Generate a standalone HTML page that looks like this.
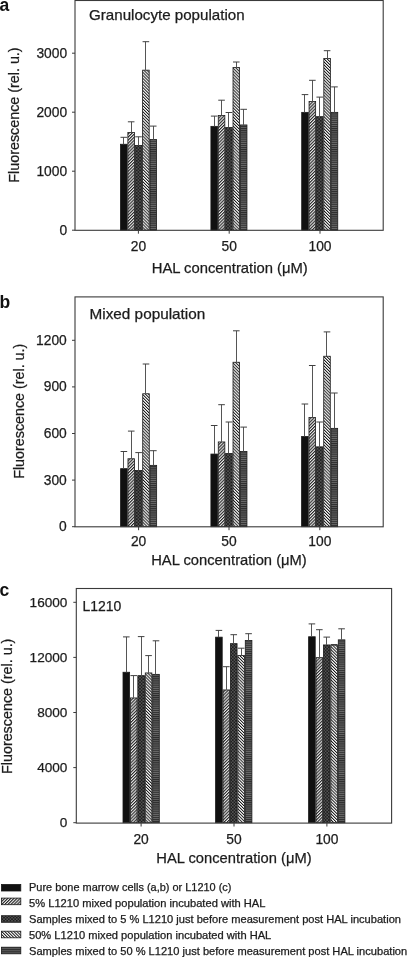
<!DOCTYPE html><html><head><meta charset="utf-8"><style>html,body{margin:0;padding:0;background:#fff;width:407px;height:957px;overflow:hidden;position:relative}</style></head><body><svg width="407" height="957" viewBox="0 0 407 957" style="position:absolute;left:0;top:0;will-change:transform;filter:blur(0.3px)">
<defs>
<pattern id="p2" patternUnits="userSpaceOnUse" width="2.2" height="10" patternTransform="rotate(45)">
<rect width="2.2" height="10" fill="#ececec"/><rect width="1.1" height="10" fill="#262626"/></pattern>
<pattern id="p4" patternUnits="userSpaceOnUse" width="2.15" height="10" patternTransform="rotate(-45)">
<rect width="2.15" height="10" fill="#fafafa"/><rect width="0.95" height="10" fill="#141414"/></pattern>
<pattern id="p3" patternUnits="userSpaceOnUse" width="3.2" height="3.2">
<rect width="3.2" height="3.2" fill="#1e1e1e"/><rect x="0.25" y="0.25" width="1.1" height="1.1" fill="#8c8c8c"/><rect x="1.85" y="1.85" width="1.1" height="1.1" fill="#8c8c8c"/></pattern>
<pattern id="p5" patternUnits="userSpaceOnUse" width="10" height="2.1">
<rect width="10" height="2.1" fill="#2c2c2c"/><rect y="1.1" width="10" height="1.0" fill="#6a6a6a"/></pattern>
</defs>
<rect width="407" height="957" fill="#fff"/>
<rect x="120.50" y="144.25" width="6.57" height="85.95" fill="#111" stroke="#1a1a1a" stroke-width="0.8"/>
<line x1="123.50" y1="137.30" x2="123.50" y2="144.25" stroke="#555" stroke-width="1"/>
<line x1="120.48" y1="137.30" x2="127.08" y2="137.30" stroke="#404040" stroke-width="1"/>
<rect x="127.87" y="132.55" width="6.57" height="97.65" fill="url(#p2)" stroke="#1a1a1a" stroke-width="0.8"/>
<line x1="131.50" y1="121.80" x2="131.50" y2="132.55" stroke="#555" stroke-width="1"/>
<line x1="127.86" y1="121.80" x2="134.46" y2="121.80" stroke="#404040" stroke-width="1"/>
<rect x="135.24" y="145.45" width="6.57" height="84.75" fill="url(#p3)" stroke="#1a1a1a" stroke-width="0.8"/>
<line x1="138.50" y1="136.80" x2="138.50" y2="145.45" stroke="#555" stroke-width="1"/>
<line x1="135.22" y1="136.80" x2="141.83" y2="136.80" stroke="#404040" stroke-width="1"/>
<rect x="142.61" y="70.15" width="6.57" height="160.05" fill="url(#p4)" stroke="#1a1a1a" stroke-width="0.8"/>
<line x1="145.50" y1="41.70" x2="145.50" y2="70.15" stroke="#555" stroke-width="1"/>
<line x1="142.59" y1="41.70" x2="149.19" y2="41.70" stroke="#404040" stroke-width="1"/>
<rect x="149.98" y="139.55" width="6.57" height="90.65" fill="url(#p5)" stroke="#1a1a1a" stroke-width="0.8"/>
<line x1="153.50" y1="126.10" x2="153.50" y2="139.55" stroke="#555" stroke-width="1"/>
<line x1="149.96" y1="126.10" x2="156.56" y2="126.10" stroke="#404040" stroke-width="1"/>
<rect x="210.90" y="126.35" width="6.57" height="103.85" fill="#111" stroke="#1a1a1a" stroke-width="0.8"/>
<line x1="214.50" y1="116.10" x2="214.50" y2="126.35" stroke="#555" stroke-width="1"/>
<line x1="210.88" y1="116.10" x2="217.49" y2="116.10" stroke="#404040" stroke-width="1"/>
<rect x="218.27" y="115.45" width="6.57" height="114.75" fill="url(#p2)" stroke="#1a1a1a" stroke-width="0.8"/>
<line x1="221.50" y1="100.20" x2="221.50" y2="115.45" stroke="#555" stroke-width="1"/>
<line x1="218.25" y1="100.20" x2="224.86" y2="100.20" stroke="#404040" stroke-width="1"/>
<rect x="225.64" y="127.55" width="6.57" height="102.65" fill="url(#p3)" stroke="#1a1a1a" stroke-width="0.8"/>
<line x1="228.50" y1="112.50" x2="228.50" y2="127.55" stroke="#555" stroke-width="1"/>
<line x1="225.62" y1="112.50" x2="232.23" y2="112.50" stroke="#404040" stroke-width="1"/>
<rect x="233.01" y="67.55" width="6.57" height="162.65" fill="url(#p4)" stroke="#1a1a1a" stroke-width="0.8"/>
<line x1="236.50" y1="62.00" x2="236.50" y2="67.55" stroke="#555" stroke-width="1"/>
<line x1="233.00" y1="62.00" x2="239.60" y2="62.00" stroke="#404040" stroke-width="1"/>
<rect x="240.38" y="124.95" width="6.57" height="105.25" fill="url(#p5)" stroke="#1a1a1a" stroke-width="0.8"/>
<line x1="243.50" y1="109.30" x2="243.50" y2="124.95" stroke="#555" stroke-width="1"/>
<line x1="240.36" y1="109.30" x2="246.97" y2="109.30" stroke="#404040" stroke-width="1"/>
<rect x="301.70" y="112.35" width="6.57" height="117.85" fill="#111" stroke="#1a1a1a" stroke-width="0.8"/>
<line x1="304.50" y1="94.60" x2="304.50" y2="112.35" stroke="#555" stroke-width="1"/>
<line x1="301.69" y1="94.60" x2="308.29" y2="94.60" stroke="#404040" stroke-width="1"/>
<rect x="309.07" y="101.55" width="6.57" height="128.65" fill="url(#p2)" stroke="#1a1a1a" stroke-width="0.8"/>
<line x1="312.50" y1="80.30" x2="312.50" y2="101.55" stroke="#555" stroke-width="1"/>
<line x1="309.06" y1="80.30" x2="315.66" y2="80.30" stroke="#404040" stroke-width="1"/>
<rect x="316.44" y="116.65" width="6.57" height="113.55" fill="url(#p3)" stroke="#1a1a1a" stroke-width="0.8"/>
<line x1="319.50" y1="97.10" x2="319.50" y2="116.65" stroke="#555" stroke-width="1"/>
<line x1="316.43" y1="97.10" x2="323.03" y2="97.10" stroke="#404040" stroke-width="1"/>
<rect x="323.81" y="58.55" width="6.57" height="171.65" fill="url(#p4)" stroke="#1a1a1a" stroke-width="0.8"/>
<line x1="327.50" y1="50.70" x2="327.50" y2="58.55" stroke="#555" stroke-width="1"/>
<line x1="323.80" y1="50.70" x2="330.40" y2="50.70" stroke="#404040" stroke-width="1"/>
<rect x="331.18" y="112.35" width="6.57" height="117.85" fill="url(#p5)" stroke="#1a1a1a" stroke-width="0.8"/>
<line x1="334.50" y1="86.90" x2="334.50" y2="112.35" stroke="#555" stroke-width="1"/>
<line x1="331.17" y1="86.90" x2="337.77" y2="86.90" stroke="#404040" stroke-width="1"/>
<rect x="75" y="0.5" width="308.20" height="229.80" fill="none" stroke="#3a3a3a" stroke-width="1.1"/>
<line x1="72.00" y1="230.20" x2="75" y2="230.20" stroke="#3a3a3a" stroke-width="1"/>
<text x="67.10" y="234.70" font-family="Liberation Sans, sans-serif" font-size="13.8" fill="#1c1c1c" stroke="#1c1c1c" stroke-width="0.25" text-anchor="end">0</text>
<line x1="72.00" y1="171.20" x2="75" y2="171.20" stroke="#3a3a3a" stroke-width="1"/>
<text x="67.10" y="175.70" font-family="Liberation Sans, sans-serif" font-size="13.8" fill="#1c1c1c" stroke="#1c1c1c" stroke-width="0.25" text-anchor="end">1000</text>
<line x1="72.00" y1="112.20" x2="75" y2="112.20" stroke="#3a3a3a" stroke-width="1"/>
<text x="67.10" y="116.70" font-family="Liberation Sans, sans-serif" font-size="13.8" fill="#1c1c1c" stroke="#1c1c1c" stroke-width="0.25" text-anchor="end">2000</text>
<line x1="72.00" y1="53.20" x2="75" y2="53.20" stroke="#3a3a3a" stroke-width="1"/>
<text x="67.10" y="57.70" font-family="Liberation Sans, sans-serif" font-size="13.8" fill="#1c1c1c" stroke="#1c1c1c" stroke-width="0.25" text-anchor="end">3000</text>
<line x1="138.4" y1="230.3" x2="138.4" y2="233.70" stroke="#3a3a3a" stroke-width="1"/>
<text x="138.4" y="251.1" font-family="Liberation Sans, sans-serif" font-size="13.8" fill="#1c1c1c" stroke="#1c1c1c" stroke-width="0.25" text-anchor="middle">20</text>
<line x1="229.2" y1="230.3" x2="229.2" y2="233.70" stroke="#3a3a3a" stroke-width="1"/>
<text x="229.2" y="251.1" font-family="Liberation Sans, sans-serif" font-size="13.8" fill="#1c1c1c" stroke="#1c1c1c" stroke-width="0.25" text-anchor="middle">50</text>
<line x1="320.0" y1="230.3" x2="320.0" y2="233.70" stroke="#3a3a3a" stroke-width="1"/>
<text x="320.0" y="251.1" font-family="Liberation Sans, sans-serif" font-size="13.8" fill="#1c1c1c" stroke="#1c1c1c" stroke-width="0.25" text-anchor="middle">100</text>
<text x="151.70" y="273" font-family="Liberation Sans, sans-serif" font-size="14.8" fill="#1c1c1c" stroke="#1c1c1c" stroke-width="0.25" textLength="156.10" lengthAdjust="spacingAndGlyphs">HAL concentration (μM)</text>
<text transform="translate(19.10,182.70) rotate(-90)" font-family="Liberation Sans, sans-serif" font-size="14.2" fill="#1c1c1c" stroke="#1c1c1c" stroke-width="0.25" textLength="135.30" lengthAdjust="spacingAndGlyphs">Fluorescence (rel. u.)</text>
<text x="-0.6" y="10.7" font-family="Liberation Sans, sans-serif" font-size="17.5" font-weight="bold" fill="#111">a</text>
<text x="89.00" y="19.50" font-family="Liberation Sans, sans-serif" font-size="14.2" fill="#1c1c1c" stroke="#1c1c1c" stroke-width="0.25" textLength="155.60" lengthAdjust="spacingAndGlyphs">Granulocyte population</text>
<rect x="120.60" y="468.65" width="6.57" height="58.05" fill="#111" stroke="#1a1a1a" stroke-width="0.8"/>
<line x1="123.50" y1="451.50" x2="123.50" y2="468.65" stroke="#555" stroke-width="1"/>
<line x1="120.59" y1="451.50" x2="127.19" y2="451.50" stroke="#404040" stroke-width="1"/>
<rect x="127.97" y="458.75" width="6.57" height="67.95" fill="url(#p2)" stroke="#1a1a1a" stroke-width="0.8"/>
<line x1="131.50" y1="431.10" x2="131.50" y2="458.75" stroke="#555" stroke-width="1"/>
<line x1="127.95" y1="431.10" x2="134.56" y2="431.10" stroke="#404040" stroke-width="1"/>
<rect x="135.34" y="470.55" width="6.57" height="56.15" fill="url(#p3)" stroke="#1a1a1a" stroke-width="0.8"/>
<line x1="138.50" y1="452.60" x2="138.50" y2="470.55" stroke="#555" stroke-width="1"/>
<line x1="135.32" y1="452.60" x2="141.93" y2="452.60" stroke="#404040" stroke-width="1"/>
<rect x="142.71" y="393.75" width="6.57" height="132.95" fill="url(#p4)" stroke="#1a1a1a" stroke-width="0.8"/>
<line x1="145.50" y1="364.00" x2="145.50" y2="393.75" stroke="#555" stroke-width="1"/>
<line x1="142.69" y1="364.00" x2="149.30" y2="364.00" stroke="#404040" stroke-width="1"/>
<rect x="150.08" y="465.35" width="6.57" height="61.35" fill="url(#p5)" stroke="#1a1a1a" stroke-width="0.8"/>
<line x1="153.50" y1="450.70" x2="153.50" y2="465.35" stroke="#555" stroke-width="1"/>
<line x1="150.06" y1="450.70" x2="156.67" y2="450.70" stroke="#404040" stroke-width="1"/>
<rect x="210.90" y="454.05" width="6.57" height="72.65" fill="#111" stroke="#1a1a1a" stroke-width="0.8"/>
<line x1="214.50" y1="425.50" x2="214.50" y2="454.05" stroke="#555" stroke-width="1"/>
<line x1="210.88" y1="425.50" x2="217.49" y2="425.50" stroke="#404040" stroke-width="1"/>
<rect x="218.27" y="441.95" width="6.57" height="84.75" fill="url(#p2)" stroke="#1a1a1a" stroke-width="0.8"/>
<line x1="221.50" y1="404.70" x2="221.50" y2="441.95" stroke="#555" stroke-width="1"/>
<line x1="218.25" y1="404.70" x2="224.86" y2="404.70" stroke="#404040" stroke-width="1"/>
<rect x="225.64" y="453.45" width="6.57" height="73.25" fill="url(#p3)" stroke="#1a1a1a" stroke-width="0.8"/>
<line x1="228.50" y1="422.00" x2="228.50" y2="453.45" stroke="#555" stroke-width="1"/>
<line x1="225.62" y1="422.00" x2="232.23" y2="422.00" stroke="#404040" stroke-width="1"/>
<rect x="233.01" y="362.25" width="6.57" height="164.45" fill="url(#p4)" stroke="#1a1a1a" stroke-width="0.8"/>
<line x1="236.50" y1="330.80" x2="236.50" y2="362.25" stroke="#555" stroke-width="1"/>
<line x1="233.00" y1="330.80" x2="239.60" y2="330.80" stroke="#404040" stroke-width="1"/>
<rect x="240.38" y="451.45" width="6.57" height="75.25" fill="url(#p5)" stroke="#1a1a1a" stroke-width="0.8"/>
<line x1="243.50" y1="427.10" x2="243.50" y2="451.45" stroke="#555" stroke-width="1"/>
<line x1="240.36" y1="427.10" x2="246.97" y2="427.10" stroke="#404040" stroke-width="1"/>
<rect x="301.60" y="436.45" width="6.57" height="90.25" fill="#111" stroke="#1a1a1a" stroke-width="0.8"/>
<line x1="304.50" y1="404.00" x2="304.50" y2="436.45" stroke="#555" stroke-width="1"/>
<line x1="301.58" y1="404.00" x2="308.19" y2="404.00" stroke="#404040" stroke-width="1"/>
<rect x="308.97" y="417.55" width="6.57" height="109.15" fill="url(#p2)" stroke="#1a1a1a" stroke-width="0.8"/>
<line x1="312.50" y1="365.50" x2="312.50" y2="417.55" stroke="#555" stroke-width="1"/>
<line x1="308.95" y1="365.50" x2="315.56" y2="365.50" stroke="#404040" stroke-width="1"/>
<rect x="316.34" y="446.85" width="6.57" height="79.85" fill="url(#p3)" stroke="#1a1a1a" stroke-width="0.8"/>
<line x1="319.50" y1="422.00" x2="319.50" y2="446.85" stroke="#555" stroke-width="1"/>
<line x1="316.32" y1="422.00" x2="322.93" y2="422.00" stroke="#404040" stroke-width="1"/>
<rect x="323.71" y="356.25" width="6.57" height="170.45" fill="url(#p4)" stroke="#1a1a1a" stroke-width="0.8"/>
<line x1="326.50" y1="331.90" x2="326.50" y2="356.25" stroke="#555" stroke-width="1"/>
<line x1="323.69" y1="331.90" x2="330.30" y2="331.90" stroke="#404040" stroke-width="1"/>
<rect x="331.08" y="428.35" width="6.57" height="98.35" fill="url(#p5)" stroke="#1a1a1a" stroke-width="0.8"/>
<line x1="334.50" y1="393.00" x2="334.50" y2="428.35" stroke="#555" stroke-width="1"/>
<line x1="331.06" y1="393.00" x2="337.67" y2="393.00" stroke="#404040" stroke-width="1"/>
<rect x="75" y="296.9" width="308.20" height="229.90" fill="none" stroke="#3a3a3a" stroke-width="1.1"/>
<line x1="72.00" y1="526.70" x2="75" y2="526.70" stroke="#3a3a3a" stroke-width="1"/>
<text x="66.80" y="531.20" font-family="Liberation Sans, sans-serif" font-size="13.8" fill="#1c1c1c" stroke="#1c1c1c" stroke-width="0.25" text-anchor="end">0</text>
<line x1="72.00" y1="480.10" x2="75" y2="480.10" stroke="#3a3a3a" stroke-width="1"/>
<text x="66.80" y="484.60" font-family="Liberation Sans, sans-serif" font-size="13.8" fill="#1c1c1c" stroke="#1c1c1c" stroke-width="0.25" text-anchor="end">300</text>
<line x1="72.00" y1="433.50" x2="75" y2="433.50" stroke="#3a3a3a" stroke-width="1"/>
<text x="66.80" y="438.00" font-family="Liberation Sans, sans-serif" font-size="13.8" fill="#1c1c1c" stroke="#1c1c1c" stroke-width="0.25" text-anchor="end">600</text>
<line x1="72.00" y1="386.90" x2="75" y2="386.90" stroke="#3a3a3a" stroke-width="1"/>
<text x="66.80" y="391.40" font-family="Liberation Sans, sans-serif" font-size="13.8" fill="#1c1c1c" stroke="#1c1c1c" stroke-width="0.25" text-anchor="end">900</text>
<line x1="72.00" y1="340.30" x2="75" y2="340.30" stroke="#3a3a3a" stroke-width="1"/>
<text x="66.80" y="344.80" font-family="Liberation Sans, sans-serif" font-size="13.8" fill="#1c1c1c" stroke="#1c1c1c" stroke-width="0.25" text-anchor="end">1200</text>
<line x1="138.6" y1="526.8" x2="138.6" y2="530.20" stroke="#3a3a3a" stroke-width="1"/>
<text x="138.6" y="545.6" font-family="Liberation Sans, sans-serif" font-size="13.8" fill="#1c1c1c" stroke="#1c1c1c" stroke-width="0.25" text-anchor="middle">20</text>
<line x1="229.0" y1="526.8" x2="229.0" y2="530.20" stroke="#3a3a3a" stroke-width="1"/>
<text x="229.0" y="545.6" font-family="Liberation Sans, sans-serif" font-size="13.8" fill="#1c1c1c" stroke="#1c1c1c" stroke-width="0.25" text-anchor="middle">50</text>
<line x1="319.8" y1="526.8" x2="319.8" y2="530.20" stroke="#3a3a3a" stroke-width="1"/>
<text x="319.8" y="545.6" font-family="Liberation Sans, sans-serif" font-size="13.8" fill="#1c1c1c" stroke="#1c1c1c" stroke-width="0.25" text-anchor="middle">100</text>
<text x="151.20" y="564.5" font-family="Liberation Sans, sans-serif" font-size="14.8" fill="#1c1c1c" stroke="#1c1c1c" stroke-width="0.25" textLength="155.60" lengthAdjust="spacingAndGlyphs">HAL concentration (μM)</text>
<text transform="translate(23.50,478.80) rotate(-90)" font-family="Liberation Sans, sans-serif" font-size="14.2" fill="#1c1c1c" stroke="#1c1c1c" stroke-width="0.25" textLength="135.10" lengthAdjust="spacingAndGlyphs">Fluorescence (rel. u.)</text>
<text x="-0.6" y="308.3" font-family="Liberation Sans, sans-serif" font-size="17.5" font-weight="bold" fill="#111">b</text>
<text x="89.50" y="319.40" font-family="Liberation Sans, sans-serif" font-size="14.2" fill="#1c1c1c" stroke="#1c1c1c" stroke-width="0.25" textLength="115.80" lengthAdjust="spacingAndGlyphs">Mixed population</text>
<rect x="123.00" y="672.25" width="6.62" height="150.45" fill="#111" stroke="#1a1a1a" stroke-width="0.8"/>
<line x1="126.50" y1="636.90" x2="126.50" y2="672.25" stroke="#555" stroke-width="1"/>
<line x1="123.01" y1="636.90" x2="129.61" y2="636.90" stroke="#404040" stroke-width="1"/>
<rect x="130.42" y="697.95" width="6.62" height="124.75" fill="url(#p2)" stroke="#1a1a1a" stroke-width="0.8"/>
<line x1="133.50" y1="675.60" x2="133.50" y2="697.95" stroke="#555" stroke-width="1"/>
<line x1="130.43" y1="675.60" x2="137.03" y2="675.60" stroke="#404040" stroke-width="1"/>
<rect x="137.84" y="675.65" width="6.62" height="147.05" fill="url(#p3)" stroke="#1a1a1a" stroke-width="0.8"/>
<line x1="141.50" y1="636.60" x2="141.50" y2="675.65" stroke="#555" stroke-width="1"/>
<line x1="137.85" y1="636.60" x2="144.45" y2="636.60" stroke="#404040" stroke-width="1"/>
<rect x="145.26" y="672.95" width="6.62" height="149.75" fill="url(#p4)" stroke="#1a1a1a" stroke-width="0.8"/>
<line x1="148.50" y1="655.60" x2="148.50" y2="672.95" stroke="#555" stroke-width="1"/>
<line x1="145.27" y1="655.60" x2="151.87" y2="655.60" stroke="#404040" stroke-width="1"/>
<rect x="152.68" y="674.35" width="6.62" height="148.35" fill="url(#p5)" stroke="#1a1a1a" stroke-width="0.8"/>
<line x1="155.50" y1="640.80" x2="155.50" y2="674.35" stroke="#555" stroke-width="1"/>
<line x1="152.69" y1="640.80" x2="159.29" y2="640.80" stroke="#404040" stroke-width="1"/>
<rect x="215.60" y="637.15" width="6.62" height="185.55" fill="#111" stroke="#1a1a1a" stroke-width="0.8"/>
<line x1="218.50" y1="630.40" x2="218.50" y2="637.15" stroke="#555" stroke-width="1"/>
<line x1="215.61" y1="630.40" x2="222.21" y2="630.40" stroke="#404040" stroke-width="1"/>
<rect x="223.02" y="689.95" width="6.62" height="132.75" fill="url(#p2)" stroke="#1a1a1a" stroke-width="0.8"/>
<line x1="226.50" y1="666.70" x2="226.50" y2="689.95" stroke="#555" stroke-width="1"/>
<line x1="223.03" y1="666.70" x2="229.63" y2="666.70" stroke="#404040" stroke-width="1"/>
<rect x="230.44" y="643.65" width="6.62" height="179.05" fill="url(#p3)" stroke="#1a1a1a" stroke-width="0.8"/>
<line x1="233.50" y1="634.70" x2="233.50" y2="643.65" stroke="#555" stroke-width="1"/>
<line x1="230.45" y1="634.70" x2="237.05" y2="634.70" stroke="#404040" stroke-width="1"/>
<rect x="237.86" y="655.55" width="6.62" height="167.15" fill="url(#p4)" stroke="#1a1a1a" stroke-width="0.8"/>
<line x1="241.50" y1="648.20" x2="241.50" y2="655.55" stroke="#555" stroke-width="1"/>
<line x1="237.87" y1="648.20" x2="244.47" y2="648.20" stroke="#404040" stroke-width="1"/>
<rect x="245.28" y="640.45" width="6.62" height="182.25" fill="url(#p5)" stroke="#1a1a1a" stroke-width="0.8"/>
<line x1="248.50" y1="633.70" x2="248.50" y2="640.45" stroke="#555" stroke-width="1"/>
<line x1="245.29" y1="633.70" x2="251.89" y2="633.70" stroke="#404040" stroke-width="1"/>
<rect x="308.60" y="636.75" width="6.62" height="185.95" fill="#111" stroke="#1a1a1a" stroke-width="0.8"/>
<line x1="311.50" y1="623.90" x2="311.50" y2="636.75" stroke="#555" stroke-width="1"/>
<line x1="308.61" y1="623.90" x2="315.21" y2="623.90" stroke="#404040" stroke-width="1"/>
<rect x="316.02" y="657.65" width="6.62" height="165.05" fill="url(#p2)" stroke="#1a1a1a" stroke-width="0.8"/>
<line x1="319.50" y1="629.70" x2="319.50" y2="657.65" stroke="#555" stroke-width="1"/>
<line x1="316.03" y1="629.70" x2="322.63" y2="629.70" stroke="#404040" stroke-width="1"/>
<rect x="323.44" y="644.95" width="6.62" height="177.75" fill="url(#p3)" stroke="#1a1a1a" stroke-width="0.8"/>
<line x1="326.50" y1="637.10" x2="326.50" y2="644.95" stroke="#555" stroke-width="1"/>
<line x1="323.45" y1="637.10" x2="330.05" y2="637.10" stroke="#404040" stroke-width="1"/>
<rect x="330.86" y="645.15" width="6.62" height="177.55" fill="url(#p4)" stroke="#1a1a1a" stroke-width="0.8"/>
<line x1="334.50" y1="644.50" x2="334.50" y2="645.15" stroke="#555" stroke-width="1"/>
<line x1="330.87" y1="644.50" x2="337.47" y2="644.50" stroke="#404040" stroke-width="1"/>
<rect x="338.28" y="639.85" width="6.62" height="182.85" fill="url(#p5)" stroke="#1a1a1a" stroke-width="0.8"/>
<line x1="341.50" y1="628.80" x2="341.50" y2="639.85" stroke="#555" stroke-width="1"/>
<line x1="338.29" y1="628.80" x2="344.89" y2="628.80" stroke="#404040" stroke-width="1"/>
<rect x="76.3" y="588.5" width="315.30" height="234.60" fill="none" stroke="#3a3a3a" stroke-width="1.1"/>
<line x1="73.30" y1="822.70" x2="76.3" y2="822.70" stroke="#3a3a3a" stroke-width="1"/>
<text x="67.40" y="827.20" font-family="Liberation Sans, sans-serif" font-size="13.6" fill="#1c1c1c" stroke="#1c1c1c" stroke-width="0.25" text-anchor="end">0</text>
<line x1="73.30" y1="767.60" x2="76.3" y2="767.60" stroke="#3a3a3a" stroke-width="1"/>
<text x="67.40" y="772.10" font-family="Liberation Sans, sans-serif" font-size="13.6" fill="#1c1c1c" stroke="#1c1c1c" stroke-width="0.25" text-anchor="end">4000</text>
<line x1="73.30" y1="712.50" x2="76.3" y2="712.50" stroke="#3a3a3a" stroke-width="1"/>
<text x="67.40" y="717.00" font-family="Liberation Sans, sans-serif" font-size="13.6" fill="#1c1c1c" stroke="#1c1c1c" stroke-width="0.25" text-anchor="end">8000</text>
<line x1="73.30" y1="657.40" x2="76.3" y2="657.40" stroke="#3a3a3a" stroke-width="1"/>
<text x="67.40" y="661.90" font-family="Liberation Sans, sans-serif" font-size="13.6" fill="#1c1c1c" stroke="#1c1c1c" stroke-width="0.25" text-anchor="end">12000</text>
<line x1="73.30" y1="602.30" x2="76.3" y2="602.30" stroke="#3a3a3a" stroke-width="1"/>
<text x="67.40" y="606.80" font-family="Liberation Sans, sans-serif" font-size="13.6" fill="#1c1c1c" stroke="#1c1c1c" stroke-width="0.25" text-anchor="end">16000</text>
<line x1="141.1" y1="823.1" x2="141.1" y2="826.50" stroke="#3a3a3a" stroke-width="1"/>
<text x="141.1" y="843.7" font-family="Liberation Sans, sans-serif" font-size="13.8" fill="#1c1c1c" stroke="#1c1c1c" stroke-width="0.25" text-anchor="middle">20</text>
<line x1="234.0" y1="823.1" x2="234.0" y2="826.50" stroke="#3a3a3a" stroke-width="1"/>
<text x="234.0" y="843.7" font-family="Liberation Sans, sans-serif" font-size="13.8" fill="#1c1c1c" stroke="#1c1c1c" stroke-width="0.25" text-anchor="middle">50</text>
<line x1="326.9" y1="823.1" x2="326.9" y2="826.50" stroke="#3a3a3a" stroke-width="1"/>
<text x="326.9" y="843.7" font-family="Liberation Sans, sans-serif" font-size="13.8" fill="#1c1c1c" stroke="#1c1c1c" stroke-width="0.25" text-anchor="middle">100</text>
<text x="156.30" y="863" font-family="Liberation Sans, sans-serif" font-size="14.8" fill="#1c1c1c" stroke="#1c1c1c" stroke-width="0.25" textLength="155.30" lengthAdjust="spacingAndGlyphs">HAL concentration (μM)</text>
<text transform="translate(12.40,774.00) rotate(-90)" font-family="Liberation Sans, sans-serif" font-size="14.2" fill="#1c1c1c" stroke="#1c1c1c" stroke-width="0.25" textLength="135.40" lengthAdjust="spacingAndGlyphs">Fluorescence (rel. u.)</text>
<text x="-0.6" y="596.0" font-family="Liberation Sans, sans-serif" font-size="17.5" font-weight="bold" fill="#111">c</text>
<text x="82.40" y="611.10" font-family="Liberation Sans, sans-serif" font-size="14.2" fill="#1c1c1c" stroke="#1c1c1c" stroke-width="0.25" textLength="38.90" lengthAdjust="spacingAndGlyphs">L1210</text>
<rect x="1.4" y="884.40" width="19.4" height="6.6" fill="#111" stroke="#1a1a1a" stroke-width="0.8"/>
<text x="29.00" y="891.40" font-family="Liberation Sans, sans-serif" font-size="10.1" fill="#1c1c1c" stroke="#1c1c1c" stroke-width="0.25" textLength="202.50" lengthAdjust="spacingAndGlyphs">Pure bone marrow cells (a,b) or L1210 (c)</text>
<rect x="1.4" y="898.10" width="19.4" height="6.6" fill="url(#p2)" stroke="#1a1a1a" stroke-width="0.8"/>
<text x="29.00" y="907.30" font-family="Liberation Sans, sans-serif" font-size="10.1" fill="#1c1c1c" stroke="#1c1c1c" stroke-width="0.25" textLength="236.50" lengthAdjust="spacingAndGlyphs">5% L1210 mixed population incubated with HAL</text>
<rect x="1.4" y="915.70" width="19.4" height="6.6" fill="url(#p3)" stroke="#1a1a1a" stroke-width="0.8"/>
<text x="29.00" y="923.10" font-family="Liberation Sans, sans-serif" font-size="10.1" fill="#1c1c1c" stroke="#1c1c1c" stroke-width="0.25" textLength="372.00" lengthAdjust="spacingAndGlyphs">Samples mixed to 5 % L1210 just before measurement post HAL incubation</text>
<rect x="1.4" y="931.20" width="19.4" height="6.6" fill="url(#p4)" stroke="#1a1a1a" stroke-width="0.8"/>
<text x="29.00" y="938.90" font-family="Liberation Sans, sans-serif" font-size="10.1" fill="#1c1c1c" stroke="#1c1c1c" stroke-width="0.25" textLength="242.30" lengthAdjust="spacingAndGlyphs">50% L1210 mixed population incubated with HAL</text>
<rect x="1.4" y="947.20" width="19.4" height="6.6" fill="url(#p5)" stroke="#1a1a1a" stroke-width="0.8"/>
<text x="29.00" y="954.50" font-family="Liberation Sans, sans-serif" font-size="10.1" fill="#1c1c1c" stroke="#1c1c1c" stroke-width="0.25" textLength="378.20" lengthAdjust="spacingAndGlyphs">Samples mixed to 50 % L1210 just before measurement post HAL incubation</text>
</svg></body></html>
